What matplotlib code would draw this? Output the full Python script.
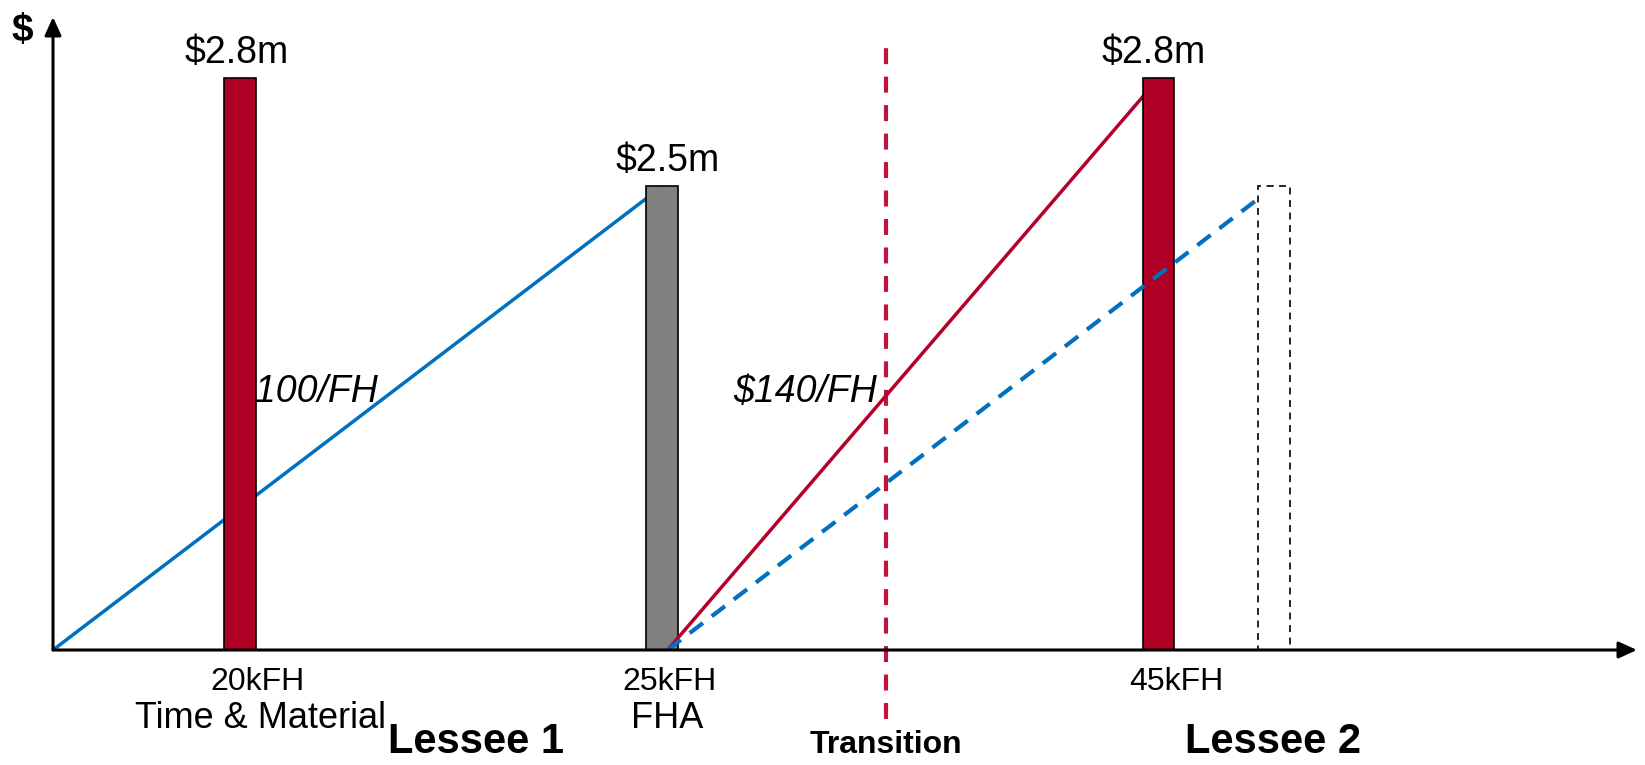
import matplotlib.pyplot as plt

plt.rcParams['font.family'] = ['Liberation Sans', 'DejaVu Sans']
plt.rcParams['lines.scale_dashes'] = False

# schematic positions (x: 0-100 along the FH axis, y: $m-like units)
bar_x = [11.8, 38.45, 69.8, 77.1]
bar_h = [2.8, 2.27, 2.8, 2.27]
bar_fill = ['#AE0024', '#808080', '#AE0024', 'white']
bar_edge = ['black', 'black', 'black', 'black']
bar_style = ['solid', 'solid', 'solid', (0, (5, 4))]
bar_z = [3, 3, 5, 7]
value_labels = ['\\$2.8m', '\\$2.5m', '\\$2.8m', '']
value_x = [11.6, 38.8, 69.5]

tick_x = [12.9, 38.9, 70.9]
tick_labels = ['20kFH', '25kFH', '45kFH']
sub_x = [13.1, 38.8]
sub_labels = ['Time & Material', 'FHA']

# reserve lines
lessee1_x = [0, 38.45]
lessee1_y = [0, 2.27]
lessee2_x = [38.8, 69.8]
lessee2_y = [0, 2.8]
alt_x = [38.8, 77.1]
alt_y = [0, 2.27]

rate_labels = ['\\$100/FH', '\\$140/FH']
rate_x = [16.0, 47.5]
rate_y = [1.265, 1.265]

transition_x = 52.6
phase_labels = ['Lessee 1', 'Lessee 2']
phase_x = [26.7, 77.0]

fig = plt.figure(figsize=(16.45, 7.65), dpi=100)
W, H = 1645, 765
ax = fig.add_axes([53 / W, (H - 650) / H, (1637 - 53) / W, (650 - 17) / H])
ax.set_xlim(0, 100)
ax.set_ylim(0, 3.1)
ax.axis('off')

# axes with arrows
for end in [(1, 0), (0, 1)]:
    ax.annotate('', xy=end, xytext=(0, 0), xycoords='axes fraction',
                arrowprops=dict(arrowstyle='-|>,head_length=0.55,head_width=0.25',
                                lw=2.2, color='black', shrinkA=0, shrinkB=0,
                                mutation_scale=20), zorder=10)
ax.text(-1.96, 3.03, '\\$', fontsize=28, fontweight='bold', ha='center', va='center')

# lines
ax.plot(lessee1_x, lessee1_y, color='#0070C0', lw=2.5, zorder=2, solid_capstyle='butt')
ax.plot(lessee2_x, lessee2_y, color='#B5002A', lw=2.5, zorder=4, solid_capstyle='butt')
ax.plot(alt_x, alt_y, color='#0070C0', lw=3, dashes=(12, 8), zorder=6)

# bars
for x, h, fc, ec, ls, z in zip(bar_x, bar_h, bar_fill, bar_edge, bar_style, bar_z):
    ax.bar(x, h, width=2.0, color=fc, edgecolor=ec, linewidth=1.2,
           linestyle=ls, zorder=z)

for x, h, lab in zip(value_x, bar_h, value_labels):
    ax.text(x, h + 0.125, lab, fontsize=27, ha='center', va='center')

for x, lab in zip(tick_x, tick_labels):
    ax.text(x, -0.155, lab, fontsize=23, ha='center', va='center')
for x, lab in zip(sub_x, sub_labels):
    ax.text(x, -0.335, lab, fontsize=26, ha='center', va='center')

for x, y, lab in zip(rate_x, rate_y, rate_labels):
    ax.text(x, y, lab, fontsize=27, style='italic', ha='center', va='center', zorder=1)

# transition marker
ax.plot([transition_x, transition_x], [-0.34, 3.0], color='#C0143C', lw=3,
        dashes=(11.5, 9), clip_on=False, zorder=3)
ax.text(transition_x, -0.465, 'Transition', fontsize=23, fontweight='bold',
        ha='center', va='center')

for x, lab in zip(phase_x, phase_labels):
    ax.text(x, -0.45, lab, fontsize=30, fontweight='bold', ha='center', va='center')

plt.savefig('out.png')
